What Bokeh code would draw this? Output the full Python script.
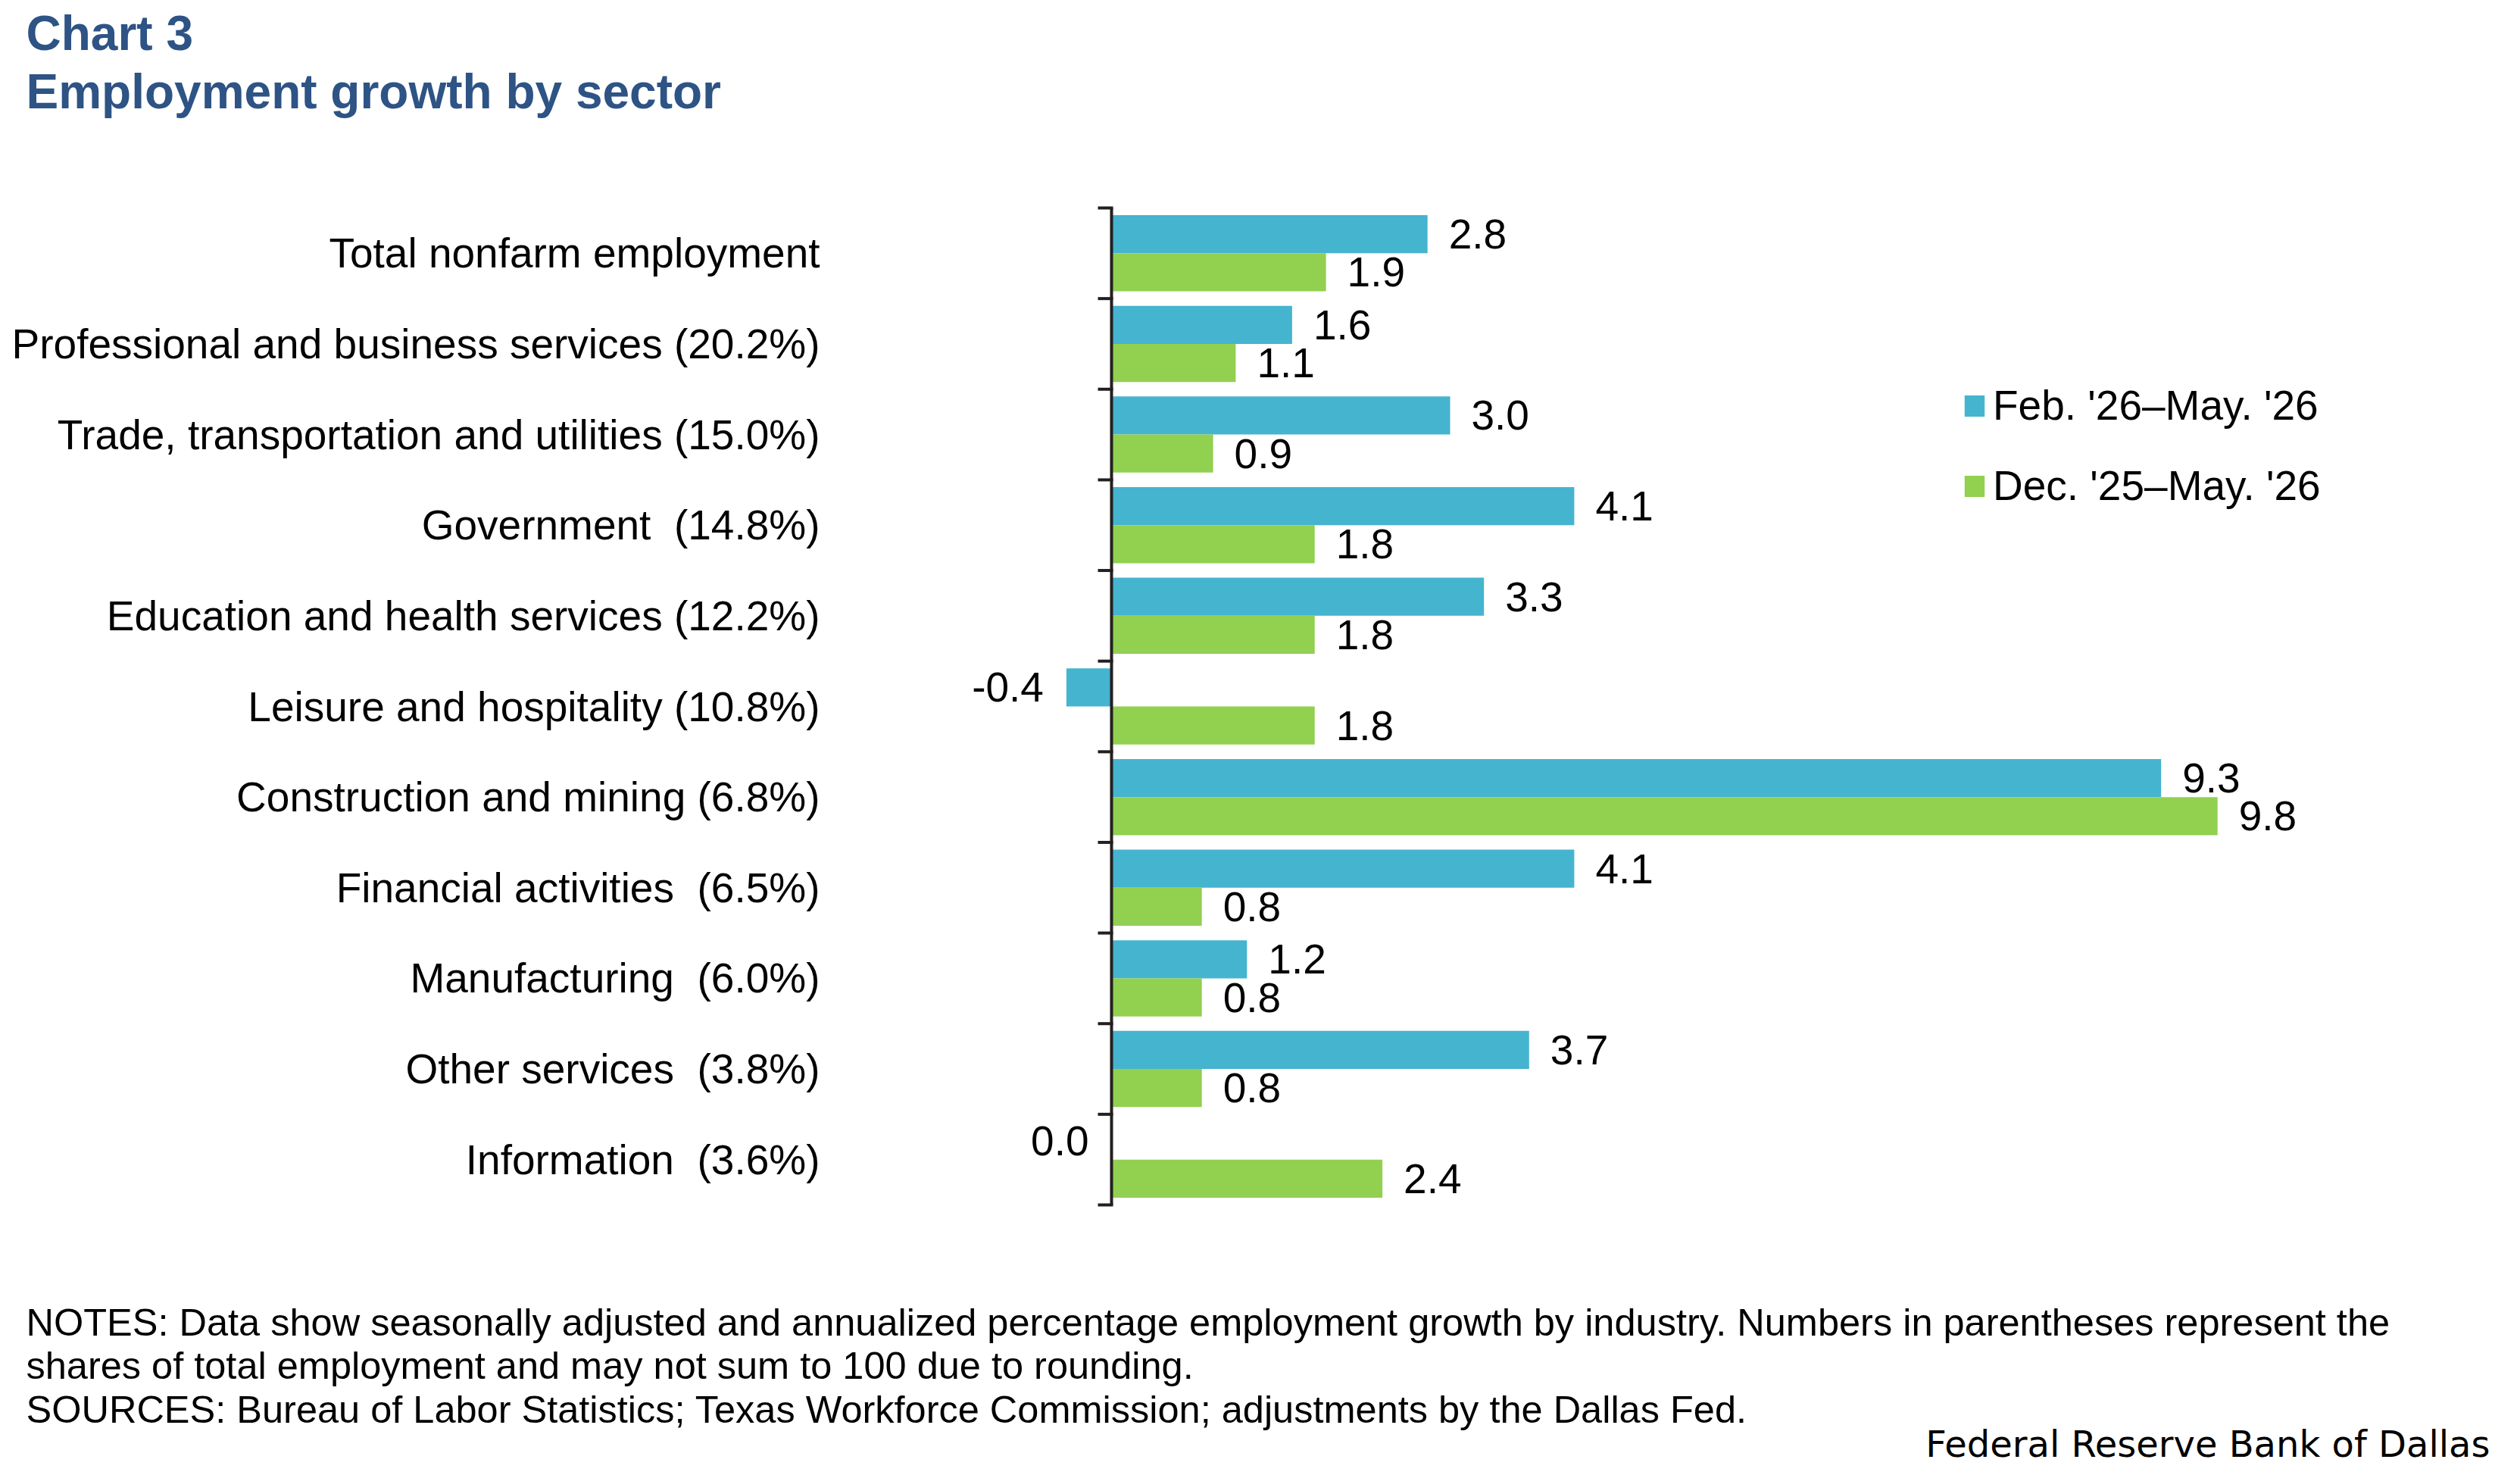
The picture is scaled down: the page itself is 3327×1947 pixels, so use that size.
from bokeh.plotting import figure
from bokeh.models import ColumnDataSource, Range1d, Label, Legend, LegendItem
from bokeh.transform import dodge
from bokeh.core.properties import value
from bokeh.embed import file_html
from bokeh.resources import INLINE

# ---- data -------------------------------------------------------------
sectors = [
    "Total nonfarm employment",
    "Professional and business services (20.2%)",
    "Trade, transportation and utilities (15.0%)",
    "Government\u00a0 (14.8%)",
    "Education and health services (12.2%)",
    "Leisure and hospitality (10.8%)",
    "Construction and mining (6.8%)",
    "Financial activities\u00a0 (6.5%)",
    "Manufacturing\u00a0 (6.0%)",
    "Other services\u00a0 (3.8%)",
    "Information\u00a0 (3.6%)",
]
feb_may = [2.8, 1.6, 3.0, 4.1, 3.3, -0.4, 9.3, 4.1, 1.2, 3.7, 0.0]
dec_may = [1.9, 1.1, 0.9, 1.8, 1.8, 1.8, 9.8, 0.8, 0.8, 0.8, 2.4]
series_names = ["Feb. '26\u2013May. '26", "Dec. '25\u2013May. '26"]

title_lines = ["Chart 3", "Employment growth by sector"]
note_lines = [
    "NOTES: Data show seasonally adjusted and annualized percentage employment growth by industry. Numbers in parentheses represent the",
    "shares of total employment and may not sum to 100 due to rounding.",
    "SOURCES: Bureau of Labor Statistics; Texas Workforce Commission; adjustments by the Dallas Fed.",
]
credit = "Federal Reserve Bank of Dallas"

# ---- style / layout ---------------------------------------------------
BLUE = "#45B4CF"
GREEN = "#92D050"
NAVY = "#2E5385"
AXIS = "#231F20"
FONT = "Liberation Sans"

W, H = 3327, 1947
PLOT_TOP, PLOT_H = 274, 1316      # vertical extent of the category band
ZERO_PX = 1467                    # screen x of the zero line
PX_PER_UNIT = 149.0               # horizontal scale
LABEL_RIGHT_PX = 1082             # right edge of the category labels

n = len(sectors)
px_per_cat = PLOT_H / n
x_start = -ZERO_PX / PX_PER_UNIT
x_end = x_start + W / PX_PER_UNIT
y_top = -0.5 - PLOT_TOP / px_per_cat
y_bottom = y_top + H / px_per_cat


def data_x(px):
    return x_start + px / PX_PER_UNIT


def data_y(py):
    return y_top + py / px_per_cat


pos = list(range(n))
BAR_H = 0.42


def label_cols(vals):
    return dict(
        text=[f"{v:.1f}" for v in vals],
        align=["right" if v <= 0 else "left" for v in vals],
        xoff=[-30 if v <= 0 else 28 for v in vals],
    )


lb_a = label_cols(feb_may)
lb_b = label_cols(dec_may)
src = ColumnDataSource(dict(
    pos=pos, sector=sectors, a=feb_may, b=dec_may,
    a_text=lb_a["text"], a_align=lb_a["align"], a_xoff=lb_a["xoff"],
    b_text=lb_b["text"], b_align=lb_b["align"], b_xoff=lb_b["xoff"],
))

p = figure(
    width=W, height=H, min_border=0,
    x_range=Range1d(x_start, x_end),
    y_range=Range1d(y_bottom, y_top),
    x_axis_location=None, y_axis_location=None,
    output_backend="svg", toolbar_location=None,
    background_fill_color="white", border_fill_color="white",
)
p.outline_line_color = None
p.grid.visible = False

# category labels
p.text(x=data_x(LABEL_RIGHT_PX), y="pos", text="sector", source=src,
       text_align="right", text_baseline="middle",
       text_font=value(FONT), text_font_size="55px", text_color="black")

# bars
r_a = p.hbar(y=dodge("pos", -BAR_H / 2, range=p.y_range), right="a", left=0,
             height=BAR_H, source=src, fill_color=BLUE, line_color=None)
r_b = p.hbar(y=dodge("pos", BAR_H / 2, range=p.y_range), right="b", left=0,
             height=BAR_H, source=src, fill_color=GREEN, line_color=None)

# value labels
p.text(x="a", y=dodge("pos", -BAR_H / 2, range=p.y_range), text="a_text",
       x_offset="a_xoff", text_align="a_align", text_baseline="middle",
       text_font=value(FONT), text_font_size="55px", text_color="black",
       source=src)
p.text(x="b", y=dodge("pos", BAR_H / 2, range=p.y_range), text="b_text",
       x_offset="b_xoff", text_align="b_align", text_baseline="middle",
       text_font=value(FONT), text_font_size="55px", text_color="black",
       source=src)

# zero axis line with ticks at category boundaries
p.segment(x0=[0], x1=[0], y0=[-0.5], y1=[n - 0.5], line_color=AXIS,
          line_width=4)
bounds = [i - 0.5 for i in range(n + 1)]
p.segment(x0=[-18 / PX_PER_UNIT] * len(bounds), x1=[2 / PX_PER_UNIT] * len(bounds),
          y0=bounds, y1=bounds, line_color=AXIS, line_width=4)

# legend (area glyphs are drawn inset by 10% of the glyph box)
legend = Legend(
    items=[LegendItem(label=series_names[0], renderers=[r_a]),
           LegendItem(label=series_names[1], renderers=[r_b])],
    location=(2590, H - 673),
    orientation="vertical",
    glyph_width=33, glyph_height=35, label_height=64, label_standoff=8,
    spacing=42, padding=0, margin=0,
    label_text_font=FONT, label_text_font_size="55px", label_text_color="black",
    border_line_color=None, background_fill_alpha=0,
)
p.add_layout(legend)

# title
for txt, base in zip(title_lines, [43, 120]):
    p.add_layout(Label(x=data_x(34), y=data_y(base), text=txt,
                       text_baseline="alphabetic", text_align="left",
                       text_font=FONT, text_font_style="bold",
                       text_font_size="64px", text_color=NAVY))

# notes and sources
for txt, base in zip(note_lines, [1745, 1802, 1860]):
    p.add_layout(Label(x=data_x(34), y=data_y(base), text=txt,
                       text_baseline="alphabetic", text_align="left",
                       text_font=FONT, text_font_size="50.5px",
                       text_color="black"))

p.add_layout(Label(x=data_x(3287), y=data_y(1905), text=credit,
                   text_baseline="alphabetic", text_align="right",
                   text_font="DejaVu Sans", text_font_size="48px",
                   text_color="black"))

open("out.html", "w").write(file_html(p, INLINE))
